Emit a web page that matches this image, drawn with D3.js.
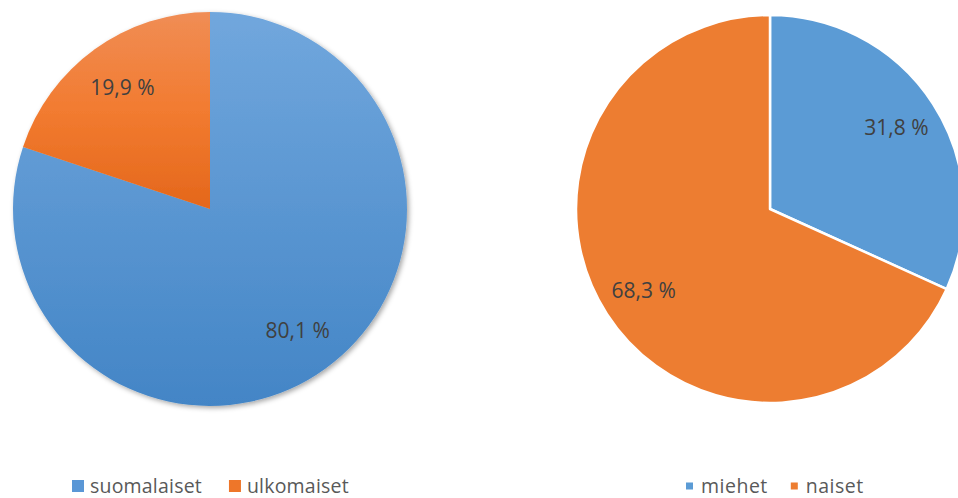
<!DOCTYPE html>
<html>
<head>
<meta charset="utf-8">
<script src="https://cdn.jsdelivr.net/npm/d3@7"></script>
<style>
  body { margin: 0; background: #fff; }
  text { font-family: "Open Sans", sans-serif; }
</style>
</head>
<body>
<div id="chart"></div>
<script>
// nationality pie
let natLabels = ['suomalaiset', 'ulkomaiset'];
let natValues = [80.1, 19.9];
// gender pie
let sexLabels = ['miehet', 'naiset'];
let sexValues = [31.8, 68.3];

let width = 958;
let height = 498;

let svg = d3.select('#chart')
  .append('svg')
  .attr('width', width)
  .attr('height', height);

let defs = svg.append('defs');

let shadow = defs.append('filter')
  .attr('id', 'shadow')
  .attr('x', '-10%').attr('y', '-10%')
  .attr('width', '125%').attr('height', '125%');
shadow.append('feDropShadow')
  .attr('dx', 2).attr('dy', 2)
  .attr('stdDeviation', 2.5)
  .attr('flood-color', '#000')
  .attr('flood-opacity', 0.35);

let addGrad = (id, stops) => {
  let g = defs.append('linearGradient')
    .attr('id', id)
    .attr('gradientUnits', 'userSpaceOnUse')
    .attr('x1', 0).attr('y1', -197)
    .attr('x2', 0).attr('y2', 197);
  stops.forEach(s => {
    g.append('stop').attr('offset', s[0]).attr('stop-color', s[1]);
  });
};
addGrad('gBlue', [['0%', '#71a7dd'], ['100%', '#4385c6']]);
addGrad('gOrange', [['0%', '#f08d55'], ['25%', '#f27b30'], ['50%', '#e4671b'], ['100%', '#d85e14']]);

let fmt = v => d3.format('.1f')(v).replace('.', ',') + ' %';

let drawPie = (opts) => {
  let pie = d3.pie().sort(null).value(d => d);
  let arc = d3.arc().innerRadius(0).outerRadius(opts.r);
  let labelArc = d3.arc().innerRadius(opts.r * opts.lf).outerRadius(opts.r * opts.lf);

  let g = svg.append('g')
    .attr('transform', 'translate(' + opts.cx + ',' + opts.cy + ')');

  let slices = g.append('g');
  if (opts.shadow) slices.attr('filter', 'url(#shadow)');

  let arcs = pie(opts.values);
  slices.selectAll('path')
    .data(arcs)
    .enter()
    .append('path')
    .attr('d', arc)
    .attr('fill', (d, i) => opts.fills[i])
    .attr('stroke', opts.stroke || 'none')
    .attr('stroke-width', opts.stroke ? 2.5 : 0)
    .attr('stroke-linejoin', 'round');

  g.selectAll('text.lbl')
    .data(arcs)
    .enter()
    .append('text')
    .attr('class', 'lbl')
    .attr('text-anchor', 'middle')
    .attr('dy', '0.35em')
    .attr('transform', d => 'translate(' + labelArc.centroid(d) + ')')
    .style('font-size', '21px')
    .style('fill', '#404040')
    .text(d => fmt(d.data));

  // legend
  let leg = svg.append('g');
  let x = opts.legX;
  opts.labels.forEach((name, i) => {
    leg.append('rect')
      .attr('x', x)
      .attr('y', opts.legY - opts.sq / 2)
      .attr('width', opts.sq)
      .attr('height', opts.sq)
      .attr('fill', opts.legFills[i]);
    let t = leg.append('text')
      .attr('x', x + opts.sq + opts.gap)
      .attr('y', opts.legY)
      .attr('dy', '0.35em')
      .style('font-size', '19.5px')
      .style('fill', '#595959')
      .style('letter-spacing', opts.ls + 'px')
      .text(name);
    x += opts.sq + opts.gap + t.node().getComputedTextLength() + opts.spacing;
  });
};

drawPie({
  cx: 210, cy: 209, r: 197, lf: 0.76,
  values: natValues, labels: natLabels,
  fills: ['url(#gBlue)', 'url(#gOrange)'],
  legFills: ['#5a97d6', '#ee7629'],
  shadow: true,
  legX: 72, legY: 486, sq: 12, gap: 6, spacing: 27, ls: 0.2
});

drawPie({
  cx: 770, cy: 209, r: 194, lf: 0.775,
  values: sexValues, labels: sexLabels,
  fills: ['#5b9bd5', '#ed7d31'],
  legFills: ['#5b9bd5', '#ed7d31'],
  stroke: '#fff',
  legX: 686, legY: 486, sq: 7, gap: 8, spacing: 23, ls: 0.5
});
</script>
</body>
</html>
